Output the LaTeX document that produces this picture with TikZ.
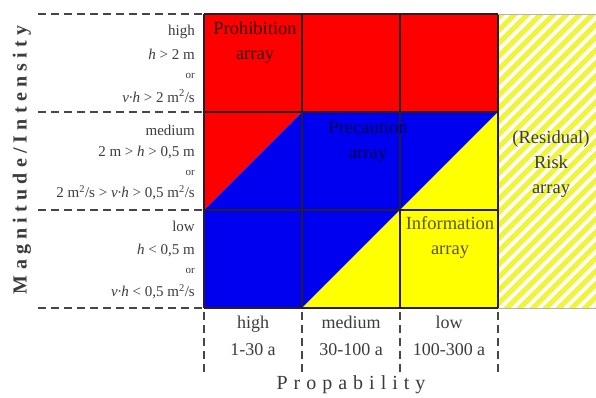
\documentclass[tikz,border=0pt]{standalone}
\usepackage{fontspec}
\setmainfont{Liberation Serif}
\newfontfamily\spacedfont[LetterSpace=30]{Liberation Serif}
\newfontfamily\spacedfontb[LetterSpace=26]{Liberation Serif}
\definecolor{cred}{RGB}{255,0,0}
\definecolor{cblue}{RGB}{0,0,240}
\definecolor{cyel}{RGB}{255,255,0}
\definecolor{chatch}{RGB}{240,245,60}
\definecolor{cgrid}{RGB}{40,30,40}
\definecolor{cdash}{RGB}{70,70,70}
\definecolor{ctext}{RGB}{60,60,60}
\begin{document}
\begin{tikzpicture}[x=1pt,y=-1pt,
  gridline/.style={cgrid,line width=1.6pt},
  dashline/.style={cdash,line width=1.8pt,dash pattern=on 8pt off 5pt},
  lefttxt/.style={anchor=east,font=\fontsize{15}{17}\selectfont,text=ctext,inner sep=0pt},
  celltxt/.style={align=center,font=\fontsize{18.5}{25}\selectfont,inner sep=0pt},
  coltxt/.style={align=center,font=\fontsize{18}{27}\selectfont,text=ctext,inner sep=0pt}]
\useasboundingbox (0,0) rectangle (596,397);
\fill[white] (0,0) rectangle (596,397);
% colour areas
\fill[cred] (204,14) rectangle (498,112);
\fill[cred] (204,112) -- (302,112) -- (204,210) -- cycle;
\fill[cblue] (204,210) -- (302,112) -- (498,112) -- (302,308) -- (204,308) -- cycle;
\fill[cyel] (302,308) -- (498,112) -- (498,308) -- cycle;
% hatched column
\begin{scope}
\clip (498,14) rectangle (596,308);
\foreach \i in {0,...,34} {
  \draw[chatch,line width=5pt] (480+\i*13-320,330) -- ++(340,-340);
}
\end{scope}
% grid
\draw[gridline] (204,14) -- (498,14);
\draw[gridline] (204,112) -- (498,112);
\draw[gridline] (204,210) -- (498,210);
\draw[gridline] (204,308) -- (498,308);
\draw[gridline] (204,14) -- (204,308);
\draw[gridline] (302,14) -- (302,308);
\draw[gridline] (400,14) -- (400,308);
\draw[gridline] (498,14) -- (498,308);
\draw[gray!60,line width=1pt] (498,14) -- (596,14);
\draw[gray!60,line width=1pt] (498,308) -- (596,308);
% dashed lines
\foreach \y in {14,112,210,308} \draw[dashline] (38,\y) -- (204,\y);
\foreach \x in {204,302,400,498} \draw[dashline] (\x,312) -- (\x,376);
% left labels
\node[lefttxt] (h1) at (195,32) {high};
\node[lefttxt] (h2) at (195,54) {\textit{h} > 2 m};
\node[lefttxt] (h3) at (195,76) {\fontsize{11}{12}\selectfont or};
\node[lefttxt] (h4) at (195,96) {\textit{v{\textperiodcentered}h} > 2 m\textsuperscript{2}/s};
\node[lefttxt] (m1) at (195,130) {medium};
\node[lefttxt] (m2) at (195,152) {2 m > \textit{h} > 0,5 m};
\node[lefttxt] (m3) at (195,173) {\fontsize{11}{12}\selectfont or};
\node[lefttxt] (m4) at (195,193) {2 m\textsuperscript{2}/s > \textit{v{\textperiodcentered}h} > 0,5 m\textsuperscript{2}/s};
\node[lefttxt] (l1) at (195,226) {low};
\node[lefttxt] (l2) at (195,250) {\textit{h} < 0,5 m};
\node[lefttxt] (l3) at (195,271) {\fontsize{11}{12}\selectfont or};
\node[lefttxt] (l4) at (195,292) {\textit{v{\textperiodcentered}h} < 0,5 m\textsuperscript{2}/s};
% cell labels
\node[celltxt,text=black!80!red] (prohib) at (255,43) {Prohibition\\array};
\node[celltxt,text=black!70!blue] (precau) at (368,142) {Precaution\\array};
\node[celltxt,text=black!75!yellow] (inform) at (450,237) {Information\\array};
\node[celltxt,text=ctext] (resid) at (551,164) {(Residual)\\Risk\\array};
% column labels
\node[coltxt] (c1) at (253,336) {high\\1-30 a};
\node[coltxt] (c2) at (351,336) {medium\\30-100 a};
\node[coltxt] (c3) at (449,336) {low\\100-300 a};
% axis titles
\node[font=\fontsize{20}{22}\selectfont\spacedfont,text=ctext,inner sep=0pt] (xaxis) at (351,385) {Propability};
\node[rotate=90,font=\fontsize{20}{22}\selectfont\bfseries\spacedfontb,text=ctext,inner sep=0pt] (yaxis) at (22,160) {Magnitude/Intensity};
\end{tikzpicture}
\end{document}
